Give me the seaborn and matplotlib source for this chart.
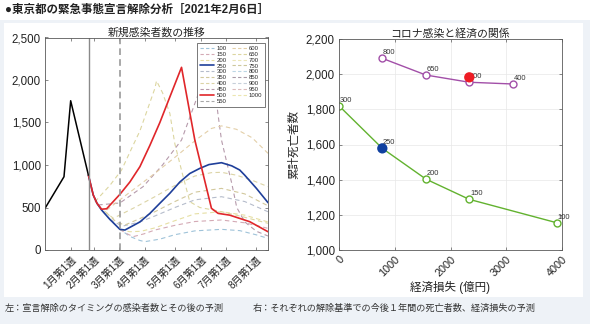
import numpy as np
import pandas as pd
import matplotlib
matplotlib.use("Agg")
import matplotlib.pyplot as plt
from matplotlib.lines import Line2D
from matplotlib.patches import Rectangle
import seaborn as sns

# ---------------- data: left panel (x in weeks from axis start) ----------------
week_ticks = [4.15, 7.9, 12.0, 16.15, 21.0, 25.2, 29.3, 34.15]
week_labels = ["1月第1週", "2月第1週", "3月第1週", "4月第1週",
               "5月第1週", "6月第1週", "7月第1週", "8月第1週"]
lift_start = 7.05       # solid gray line
decl_date = 12.1        # dashed gray line

black_x = [0, 3.07, 4.15, 7.02]
black_y = [490, 862, 1756, 880]

red_x = [7.02, 7.8, 8.4, 9.15, 9.96, 12.11, 13.72, 15.34, 16.95, 18.57, 20.18,
         22.07, 24.22, 26.91, 27.98, 29.87, 33.10, 36.05]
red_y = [880, 647, 550, 480, 485, 655, 800, 980, 1230, 1500, 1800,
         2149, 1294, 490, 431, 410, 333, 215]

blue_x = [7.02, 7.8, 8.4, 9.15, 10.49, 12.11, 12.92, 15.34, 16.95, 18.57, 20.18,
          21.8, 23.41, 25.02, 26.5, 28.53, 30.19, 31.48, 32.29, 34.18, 36.05]
blue_y = [880, 647, 550, 470, 360, 243, 235, 330, 430, 550, 667,
          800, 900, 960, 1005, 1027, 990, 941, 880, 725, 557]

c100_x = [7.02, 7.8, 8.4, 9.15, 10.49, 12.11, 13.72, 15.34, 16.14, 18.57, 21.0,
          24.22, 28.53, 31.48, 34.18, 36.05]
c100_y = [880, 647, 550, 470, 360, 243, 160, 112, 98, 128, 180,
          225, 243, 228, 178, 137]
c150_x = [12.11, 13.0, 14.26, 16.0, 17.76, 21.0, 24.22, 28.53, 32.29, 36.05]
c150_y = [243, 200, 157, 190, 235, 290, 335, 353, 320, 255]
c200_x = [12.11, 13.0, 13.72, 15.5, 17.76, 21.0, 24.22, 28.53, 32.29, 36.05]
c200_y = [243, 225, 215, 220, 260, 345, 425, 450, 410, 330]
c300_x = [10.49, 12.5, 15.34, 17.76, 21.0, 24.22, 28.53, 32.29, 36.05]
c300_y = [360, 280, 330, 400, 500, 590, 627, 570, 450]
c350_x = [9.9, 11.5, 12.92, 15.34, 17.76, 21.0, 24.22, 28.53, 32.29, 36.05]
c350_y = [440, 330, 294, 370, 450, 570, 680, 725, 660, 520]
c400_x = [9.6, 11.03, 14.5, 17.76, 21.0, 24.22, 26.9, 28.53, 30.95, 33.5, 36.05]
c400_y = [460, 373, 500, 627, 760, 870, 910, 914, 880, 820, 745]
c450_x = [8.6, 12.11, 15.85, 19.0, 22.07, 25.02, 26.8, 27.98, 28.53, 30.19,
          31.0, 32.3, 34.18, 36.05]
c450_y = [530, 553, 745, 1000, 1294, 1882, 2300, 1588, 1294, 784,
          500, 330, 220, 165]
c600_x = [9.96, 13.72, 17.76, 21.0, 24.49, 26.9, 28.53, 30.95, 33.5, 36.05]
c600_y = [470, 680, 902, 1090, 1300, 1430, 1460, 1420, 1320, 1137]
c650_x = [8.07, 10.49, 12.38, 14.26, 15.34, 16.5, 17.76, 18.03, 19.0, 20.18,
          20.99, 22.2, 23.41, 25.02, 27.98, 31.48, 36.05]
c650_y = [568, 760, 941, 1235, 1400, 1640, 1901, 1990, 1850, 1608,
          1250, 900, 568, 500, 460, 400, 314]

legend_labels = ["100", "150", "200", "250", "300", "350", "400", "450", "500", "550",
                 "600", "650", "700", "750", "800", "850", "900", "950", "1000"]
legend_colors = ["#9fc3d9", "#d4aab5", "#e6dfa3", "#1f3f9a", "#b5bccb", "#d2c89c",
                 "#dcd4a6", "#b69aab", "#e0262a", "#a8a8a8", "#e3cfa8", "#dcd6a0",
                 "#ece6b8", "#cdc79c", "#bcd6e4", "#a99aa6", "#c7d0da", "#dcbcbc",
                 "#ece6b0"]

dashed_curves = [("100", c100_x, c100_y), ("150", c150_x, c150_y),
                 ("200", c200_x, c200_y), ("300", c300_x, c300_y),
                 ("350", c350_x, c350_y), ("400", c400_x, c400_y),
                 ("450", c450_x, c450_y), ("600", c600_x, c600_y),
                 ("650", c650_x, c650_y)]

# ---------------- data: right panel ----------------
green_x = [0, 777, 1560, 2337, 3905]
green_y = [1820, 1578, 1403, 1288, 1155]
green_lab = ["300", "250", "200", "150", "100"]
purple_x = [777, 1560, 2337, 3127]
purple_y = [2090, 1995, 1954, 1944]
purple_lab = ["800", "650", "500", "400"]
blue_pt = (777, 1578)
red_pt = (2337, 1982)

# ---------------- style ----------------
sns.set_style("ticks")
plt.rcParams["font.family"] = ["Liberation Sans", "Noto Sans CJK JP", "DejaVu Sans"]
plt.rcParams["axes.unicode_minus"] = False

W, H = 590, 324
fig = plt.figure(figsize=(W / 100, H / 100), dpi=100)
fig.patch.set_facecolor("white")

# background bands
fig.patches.append(Rectangle((0, 0), 1, 1 - 20 / H, transform=fig.transFigure,
                             facecolor="#eef2f7", edgecolor="none", zorder=-10))
fig.patches.append(Rectangle((4 / W, 1 - 297 / H), 579 / W, (297 - 23) / H,
                             transform=fig.transFigure, facecolor="white",
                             edgecolor="none", zorder=-9))

fig.text(5 / W, 1 - 10 / H, "●東京都の緊急事態宣言解除分析［2021年2月6日］",
         fontsize=8.3, fontweight="bold", va="center", ha="left", color="#222222")
fig.text(5 / W, 1 - 308 / H, "左：宣言解除のタイミングの感染者数とその後の予測",
         fontsize=6.6, va="center", ha="left", color="#333333")
fig.text(253 / W, 1 - 308 / H, "右：それぞれの解除基準での今後１年間の死亡者数、経済損失の予測",
         fontsize=6.6, va="center", ha="left", color="#333333")

spine_col = "#5a5a5a"

# ---------------- left panel ----------------
axL = fig.add_axes([45 / W, 1 - 250 / H, 223 / W, 212.5 / H])
col_of = dict(zip(legend_labels, legend_colors))
for lab, xs, ys in dashed_curves:
    sns.lineplot(x=xs, y=ys, ax=axL, color=col_of[lab], linestyle=(0, (4, 3)),
                 linewidth=0.8, sort=False, estimator=None, legend=False)
sns.lineplot(x=blue_x, y=blue_y, ax=axL, color=col_of["250"], linewidth=1.2,
             sort=False, estimator=None, legend=False)
sns.lineplot(x=red_x, y=red_y, ax=axL, color=col_of["500"], linewidth=1.2,
             sort=False, estimator=None, legend=False)
sns.lineplot(x=black_x, y=black_y, ax=axL, color="black", linewidth=1.1,
             sort=False, estimator=None, legend=False)
axL.axvline(lift_start, color="#8a8a8a", linewidth=1.0)
axL.axvline(decl_date, color="#9a9a9a", linewidth=1.2, linestyle=(0, (4, 2.5)))

axL.set_xlim(0, 36.05)
axL.set_ylim(0, 2500)
axL.set_yticks([0, 500, 1000, 1500, 2000, 2500])
axL.set_yticklabels(["0", "500", "1,000", "1,500", "2,000", "2,500"])
axL.set_xticks(week_ticks)
axL.set_xticklabels(week_labels, rotation=45, ha="right", va="top",
                    rotation_mode="anchor", fontsize=7.2)
axL.tick_params(axis="y", labelsize=8.3)
axL.tick_params(direction="in", length=2.5, width=0.5, top=True, right=True,
                colors=spine_col, labelcolor="#222222", pad=3)
for s in axL.spines.values():
    s.set_color(spine_col)
    s.set_linewidth(0.6)
axL.set_title("新規感染者数の推移", fontsize=7.8, pad=1.5, color="#222222")
axL.set_xlabel("")
axL.set_ylabel("")

handles = []
for lab, c in zip(legend_labels, legend_colors):
    if lab in ("250", "500"):
        handles.append(Line2D([], [], color=c, linewidth=1.2))
    else:
        handles.append(Line2D([], [], color=c, linewidth=0.8, linestyle=(0, (3, 2))))
leg = axL.legend(handles, legend_labels, ncol=2, loc="upper right",
                 bbox_to_anchor=(0.987, 0.974), fontsize=4.3, frameon=True,
                 fancybox=False, edgecolor="#444444", framealpha=1,
                 handlelength=2.4, handletextpad=0.4, labelspacing=0.12,
                 columnspacing=0.9, borderpad=0.45, borderaxespad=0)
leg.get_frame().set_linewidth(0.5)

# ---------------- right panel ----------------
axR = fig.add_axes([339 / W, 1 - 250 / H, 223 / W, 211 / H])
green_c = "#62b22f"
purple_c = "#a24fa8"
sns.lineplot(x=green_x, y=green_y, ax=axR, color=green_c, linewidth=1.0,
             marker="o", markersize=5, markerfacecolor="white",
             markeredgecolor=green_c, markeredgewidth=1.0,
             sort=False, estimator=None, legend=False)
sns.lineplot(x=purple_x, y=purple_y, ax=axR, color=purple_c, linewidth=1.0,
             marker="o", markersize=5, markerfacecolor="white",
             markeredgecolor=purple_c, markeredgewidth=1.0,
             sort=False, estimator=None, legend=False)
sns.scatterplot(x=[blue_pt[0]], y=[blue_pt[1]], ax=axR, color="#1040a0", s=55,
                edgecolor="none", zorder=5, legend=False)
sns.scatterplot(x=[red_pt[0]], y=[red_pt[1]], ax=axR, color="#ee1c24", s=55,
                edgecolor="none", zorder=5, legend=False)
for xs, ys, labs in ((green_x, green_y, green_lab), (purple_x, purple_y, purple_lab)):
    for x, y, t in zip(xs, ys, labs):
        axR.annotate(t, (x, y), xytext=(0.5, 1.5), textcoords="offset points",
                     fontsize=5.4, ha="left", va="bottom", color="#333333")

axR.set_xlim(0, 4000)
axR.set_ylim(1000, 2200)
axR.set_xticks([0, 1000, 2000, 3000, 4000])
axR.set_xticklabels(["0", "1000", "2000", "3000", "4000"], rotation=45,
                    ha="right", va="top", rotation_mode="anchor", fontsize=7.8)
axR.set_yticks([1000, 1200, 1400, 1600, 1800, 2000, 2200])
axR.set_yticklabels(["1,000", "1,200", "1,400", "1,600", "1,800", "2,000", "2,200"])
axR.tick_params(axis="y", labelsize=8.3)
axR.tick_params(direction="in", length=2.5, width=0.5, top=True, right=True,
                colors=spine_col, labelcolor="#222222", pad=3)
axR.grid(True, color="#e8e8e8", linewidth=0.5)
axR.set_axisbelow(True)
for s in axR.spines.values():
    s.set_color(spine_col)
    s.set_linewidth(0.6)
axR.set_title("コロナ感染と経済の関係", fontsize=7.8, pad=1.5, color="#222222")
axR.set_xlabel("経済損失 (億円)", fontsize=8.3, labelpad=2, color="#222222")
axR.set_ylabel("累計死亡者数", fontsize=8.3, labelpad=4, color="#222222")

fig.savefig("out.png", dpi=100, facecolor=fig.get_facecolor())
